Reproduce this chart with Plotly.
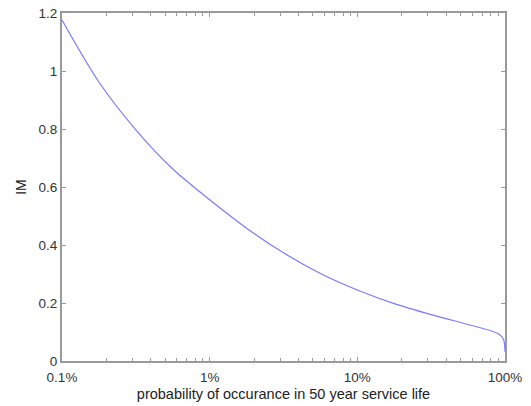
import plotly.graph_objects as go

# probability of occurrence (%) and IM values
prob_pct = [0.1, 0.1778, 0.3162, 0.5623, 1.0, 1.778, 3.162, 5.623, 10.0, 17.78, 31.62, 56.23, 79.43, 91.2, 97.7, 100.0]
im_vals = [1.176, 0.962, 0.797, 0.662, 0.556, 0.458, 0.373, 0.302, 0.245, 0.198, 0.160, 0.126, 0.105, 0.092, 0.075, 0.032]

x_tickvals = [0.1, 1, 10, 100]
x_ticktext = ["0.1%", "1%", "10%", "100%"]
y_tickvals = [0, 0.2, 0.4, 0.6, 0.8, 1, 1.2]
y_ticktext = ["0", "0.2", "0.4", "0.6", "0.8", "1", "1.2"]

FONT = "Liberation Sans, Arial"

fig = go.Figure()
fig.add_trace(go.Scatter(x=prob_pct, y=im_vals, mode="lines",
                         line=dict(color="#7b7bff", width=1.2, shape="spline", smoothing=0.8),
                         showlegend=False))

axis_common = dict(showline=True, linecolor="#9a9a9a", linewidth=2, mirror="ticks",
                   ticks="inside", ticklen=4, tickcolor="#9a9a9a", tickwidth=1,
                   showgrid=False, zeroline=False, automargin=False,
                   tickfont=dict(family=FONT, size=13.5, color="#333333"))

fig.update_xaxes(type="log", range=[-1, 2], tickvals=x_tickvals, ticktext=x_ticktext,
                 ticklabelstandoff=3,
                 minor=dict(ticks="inside", ticklen=3, tickcolor="#9a9a9a", dtick="D1", showgrid=False),
                 title=dict(text="probability of occurance in 50 year service life",
                            font=dict(family=FONT, size=14.5, color="#222222"),
                            standoff=5),
                 **axis_common)
fig.update_yaxes(range=[0, 1.2], tickvals=y_tickvals, ticktext=y_ticktext,
                 title=dict(text="IM", font=dict(family=FONT, size=14, color="#222222"),
                            standoff=9),
                 **axis_common)

fig.update_layout(width=531, height=406, margin=dict(l=62, r=26, t=13, b=45),
                  paper_bgcolor="white", plot_bgcolor="white")

fig.write_html("out.html")
